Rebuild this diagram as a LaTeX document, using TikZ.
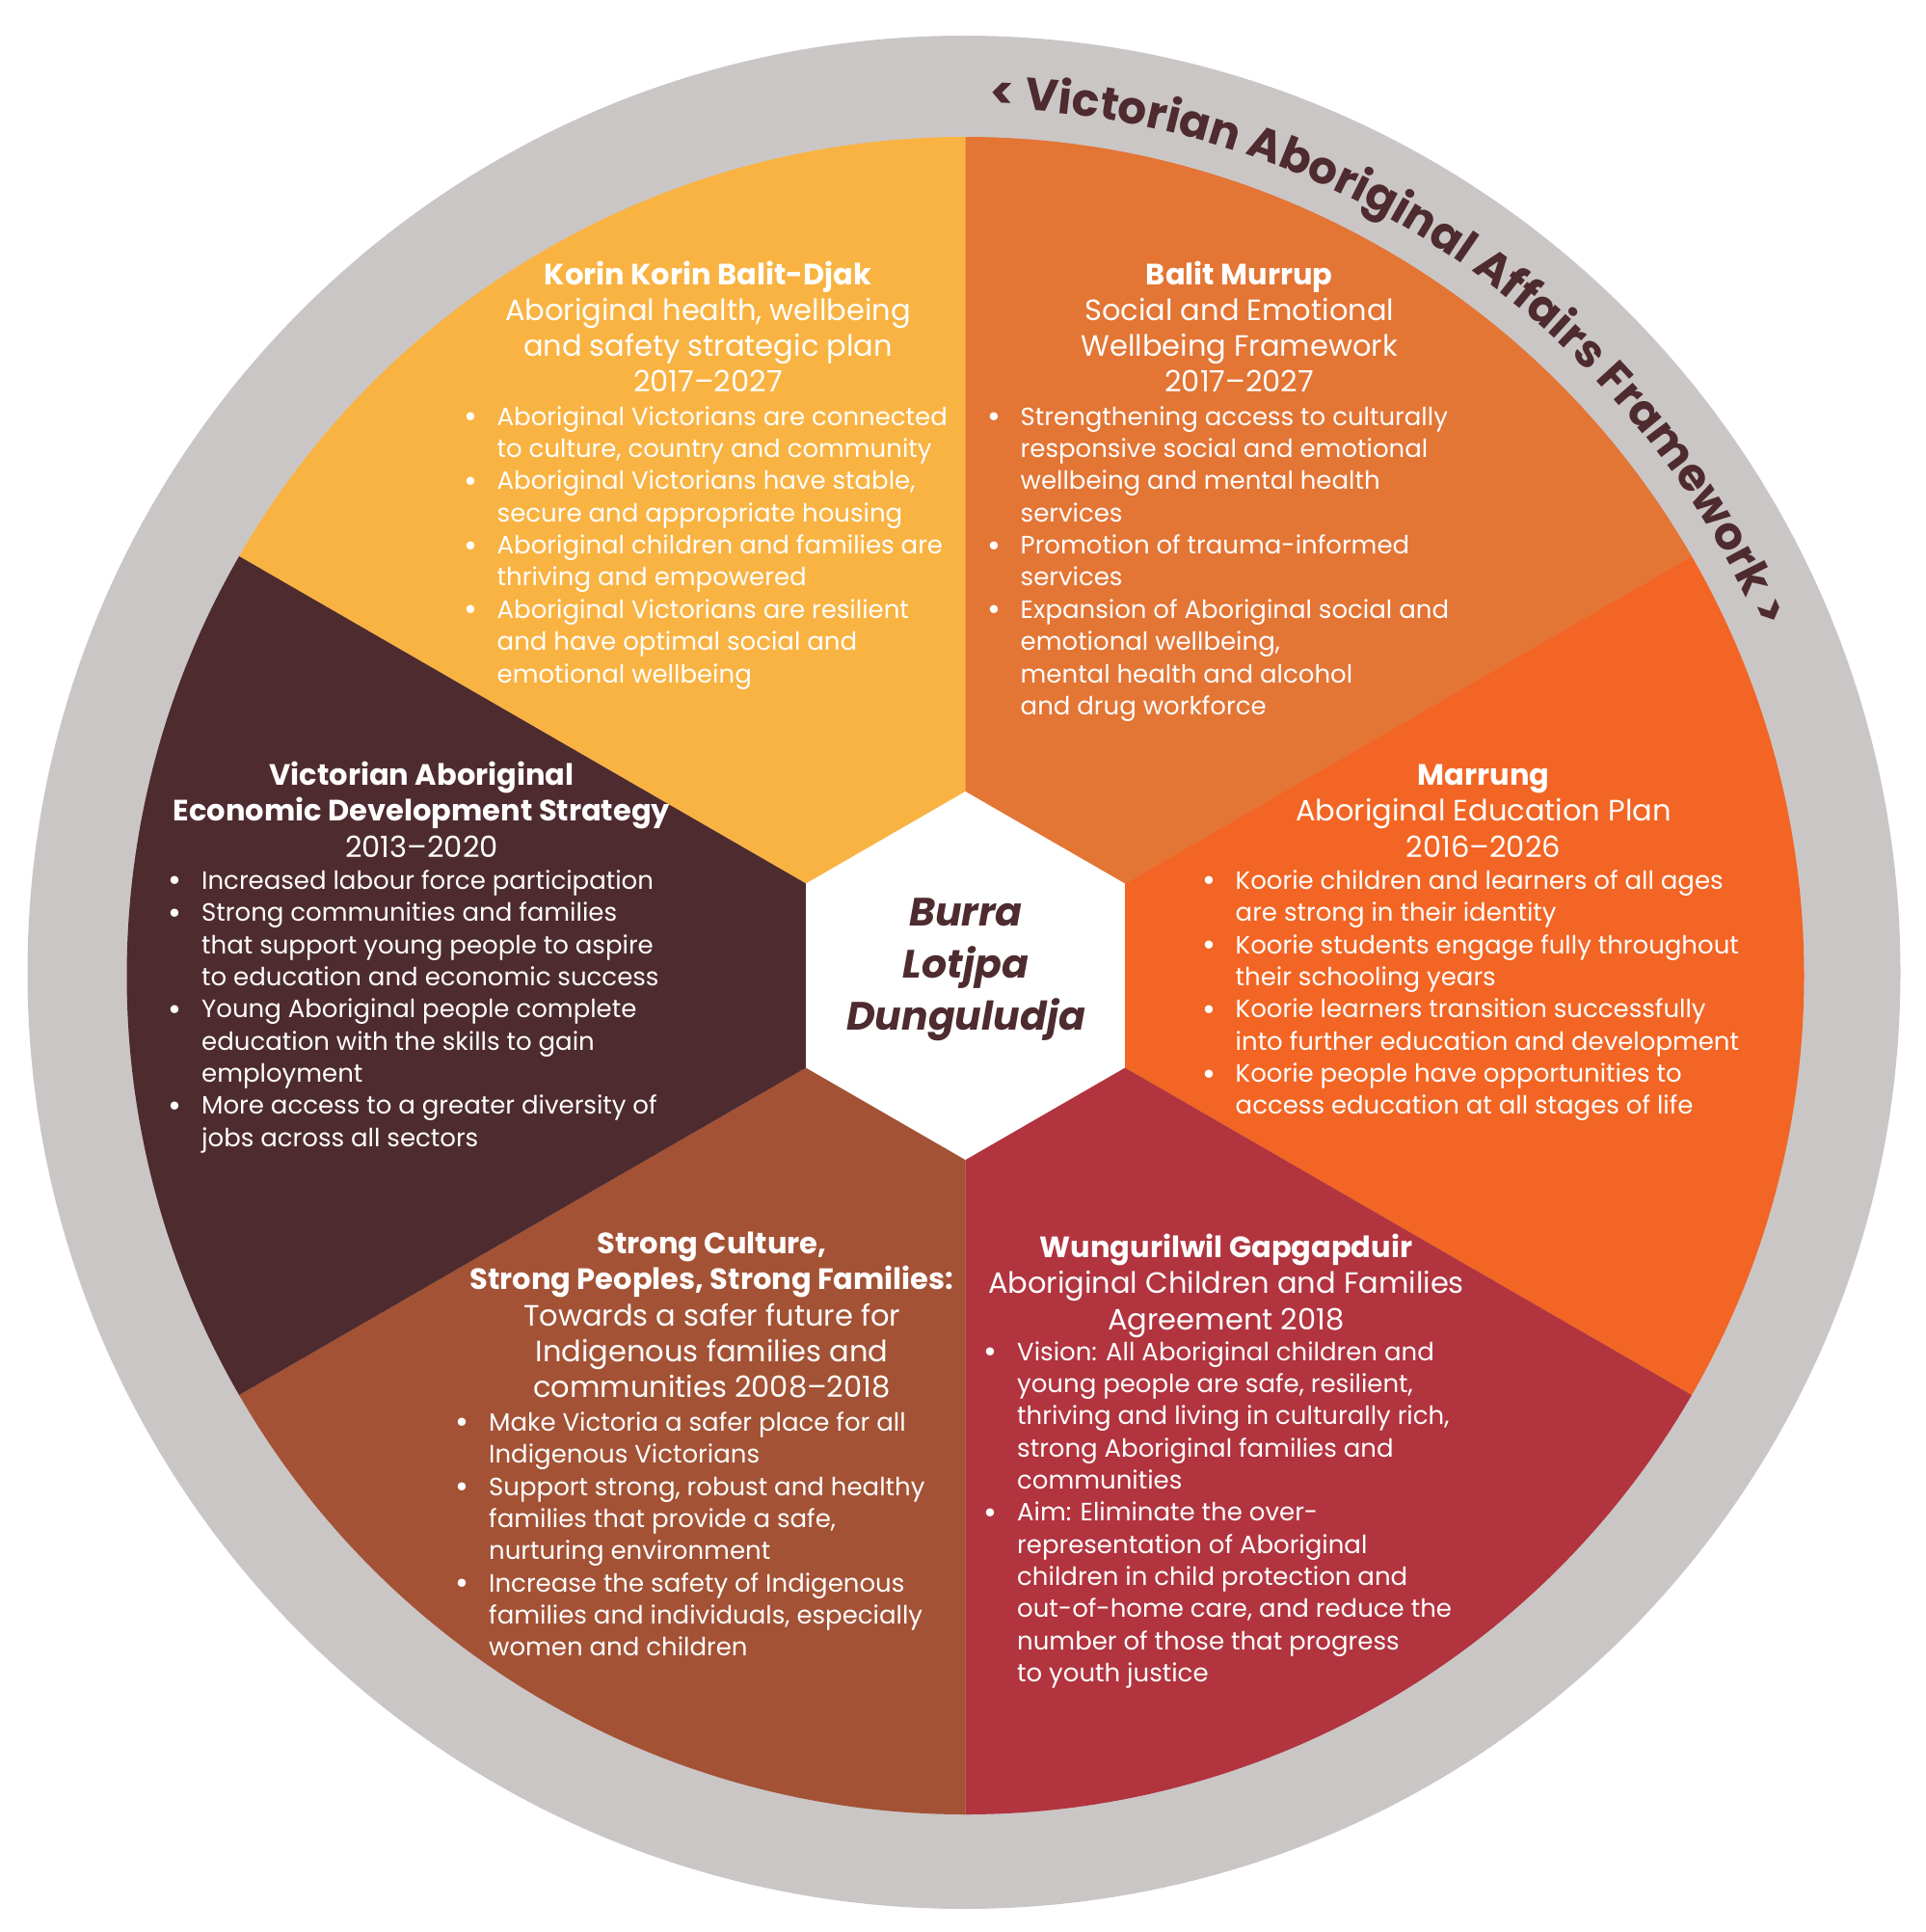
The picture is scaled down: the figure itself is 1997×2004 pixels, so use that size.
\documentclass[tikz,border=0pt]{standalone}
\usepackage{fontspec}
\setmainfont{Poppins}
\usetikzlibrary{decorations.text}
\definecolor{cYel}{HTML}{F9B342}
\definecolor{cOra}{HTML}{E37535}
\definecolor{cBri}{HTML}{F26524}
\definecolor{cRed}{HTML}{B1343F}
\definecolor{cBro}{HTML}{A35235}
\definecolor{cDark}{HTML}{4E2B2F}
\definecolor{cGray}{HTML}{CBC6C6}
\newlength\bind \setlength\bind{30pt}
\newcommand\bul{\hskip-4.5pt\raisebox{-2.4pt}{\scalebox{1.3}{\textbullet}}}
\newcommand\bl[1]{\hbox{\hbox to\bind{\bul\hfil}#1}}
\newcommand\cl[1]{\hbox{\hskip\bind#1}}
\newcommand\hl[1]{\hbox to 0pt{\hss#1\hss}}
\newcommand\hdrfont{\fontsize{30.5}{37.3}\selectfont}
\newcommand\bodyfont{\fontsize{26}{33.35}\selectfont}
\tikzset{
  hblk/.style={inner sep=0pt, text=white, anchor=base},
  bblk/.style={inner sep=0pt, text=white, anchor=base west}
}
\begin{document}
\begin{tikzpicture}[x=1pt,y=1pt]
\useasboundingbox (0,0) rectangle (1997,-2004);
\coordinate (C) at (1001.5,-1012);
\coordinate (R0) at (1000,-1008.5);
\fill[cGray] (R0) circle[radius=971.5pt];
\foreach \a/\b/\c in {90/150/cYel, 30/90/cOra, -30/30/cBri, -90/-30/cRed, -150/-90/cBro, 150/210/cDark}{
  \fill[\c] (C) -- ++(\a:870pt) arc[start angle=\a, end angle=\b, radius=870pt] -- cycle;
}
\fill[white] (C) +(90:191pt) -- +(30:191pt) -- +(-30:191pt) -- +(-90:191pt) -- +(-150:191pt) -- +(150:191pt) -- cycle;
% ring text
\path[decorate, decoration={text along path, text align=fit to path,
  text={|\fontsize{47}{50}\selectfont\bfseries\color{cDark}|< Victorian Aboriginal Affairs Framework >}}]
  (C) ++(88.4:900pt) arc[start angle=88.4, end angle=23.6, radius=900pt];
% centre
\node[inner sep=0pt, text=cDark, anchor=base] (ctr) at (1002,-960)
  {\vtop{\fontsize{41}{54}\selectfont\bfseries\itshape\hl{Burra}\hl{Lotjpa}\hl{Dunguludja}}};
% yellow
\node[hblk] (yh) at (734.5,-295) {\vtop{\hdrfont
  \hl{\bfseries Korin Korin Balit-Djak}\hl{Aboriginal health, wellbeing}\hl{and safety strategic plan}\hl{2017–2027}}};
\node[bblk] (yb) at (485.5,-441.2) {\vtop{\bodyfont
  \bl{Aboriginal Victorians are connected}\cl{to culture, country and community}
  \bl{Aboriginal Victorians have stable,}\cl{secure and appropriate housing}
  \bl{Aboriginal children and families are}\cl{thriving and empowered}
  \bl{Aboriginal Victorians are resilient}\cl{and have optimal social and}\cl{emotional wellbeing}}};
% orange
\node[hblk] (oh) at (1285.7,-295) {\vtop{\hdrfont
  \hl{\bfseries Balit Murrup}\hl{Social and Emotional}\hl{Wellbeing Framework}\hl{2017–2027}}};
\node[bblk] (ob) at (1028.5,-441.2) {\vtop{\bodyfont
  \bl{Strengthening access to culturally}\cl{responsive social and emotional}\cl{wellbeing and mental health}\cl{services}
  \bl{Promotion of trauma-informed}\cl{services}
  \bl{Expansion of Aboriginal social and}\cl{emotional wellbeing,}\cl{mental health and alcohol}\cl{and drug workforce}}};
% bright orange
\node[hblk] (mh) at (1539,-814.5) {\vtop{\hdrfont
  \hl{\bfseries Marrung}\hl{Aboriginal Education Plan}\hl{2016–2026}}};
\node[bblk] (mb) at (1251.5,-922.5) {\vtop{\bodyfont
  \bl{Koorie children and learners of all ages}\cl{are strong in their identity}
  \bl{Koorie students engage fully throughout}\cl{their schooling years}
  \bl{Koorie learners transition successfully}\cl{into further education and development}
  \bl{Koorie people have opportunities to}\cl{access education at all stages of life}}};
% red
\node[hblk] (wh) at (1272,-1304.4) {\vtop{\hdrfont
  \hl{\bfseries Wungurilwil Gapgapduir}\hl{Aboriginal Children and Families}\hl{Agreement 2018}}};
\node[bblk] (wb) at (1025,-1411) {\vtop{\bodyfont
  \bl{Vision: All Aboriginal children and}\cl{young people are safe, resilient,}\cl{thriving and living in culturally rich,}\cl{strong Aboriginal families and}\cl{communities}
  \bl{Aim: Eliminate the over-}\cl{representation of Aboriginal}\cl{children in child protection and}\cl{out-of-home care, and reduce the}\cl{number of those that progress}\cl{to youth justice}}};
% brown
\node[hblk] (sh) at (738.5,-1300.4) {\vtop{\hdrfont
  \hl{\bfseries Strong Culture,}\hl{\bfseries Strong Peoples, Strong Families:}\hl{Towards a safer future for}\hl{Indigenous families and}\hl{communities 2008–2018}}};
\node[bblk] (sb) at (477,-1484.5) {\vtop{\bodyfont
  \bl{Make Victoria a safer place for all}\cl{Indigenous Victorians}
  \bl{Support strong, robust and healthy}\cl{families that provide a safe,}\cl{nurturing environment}
  \bl{Increase the safety of Indigenous}\cl{families and individuals, especially}\cl{women and children}}};
% dark
\node[hblk] (vh) at (437.5,-814.5) {\vtop{\hdrfont
  \hl{\bfseries Victorian Aboriginal}\hl{\bfseries Economic Development Strategy}\hl{2013–2020}}};
\node[bblk] (vb) at (179,-922.5) {\vtop{\bodyfont
  \bl{Increased labour force participation}
  \bl{Strong communities and families}\cl{that support young people to aspire}\cl{to education and economic success}
  \bl{Young Aboriginal people complete}\cl{education with the skills to gain}\cl{employment}
  \bl{More access to a greater diversity of}\cl{jobs across all sectors}}};
\end{tikzpicture}
\end{document}
